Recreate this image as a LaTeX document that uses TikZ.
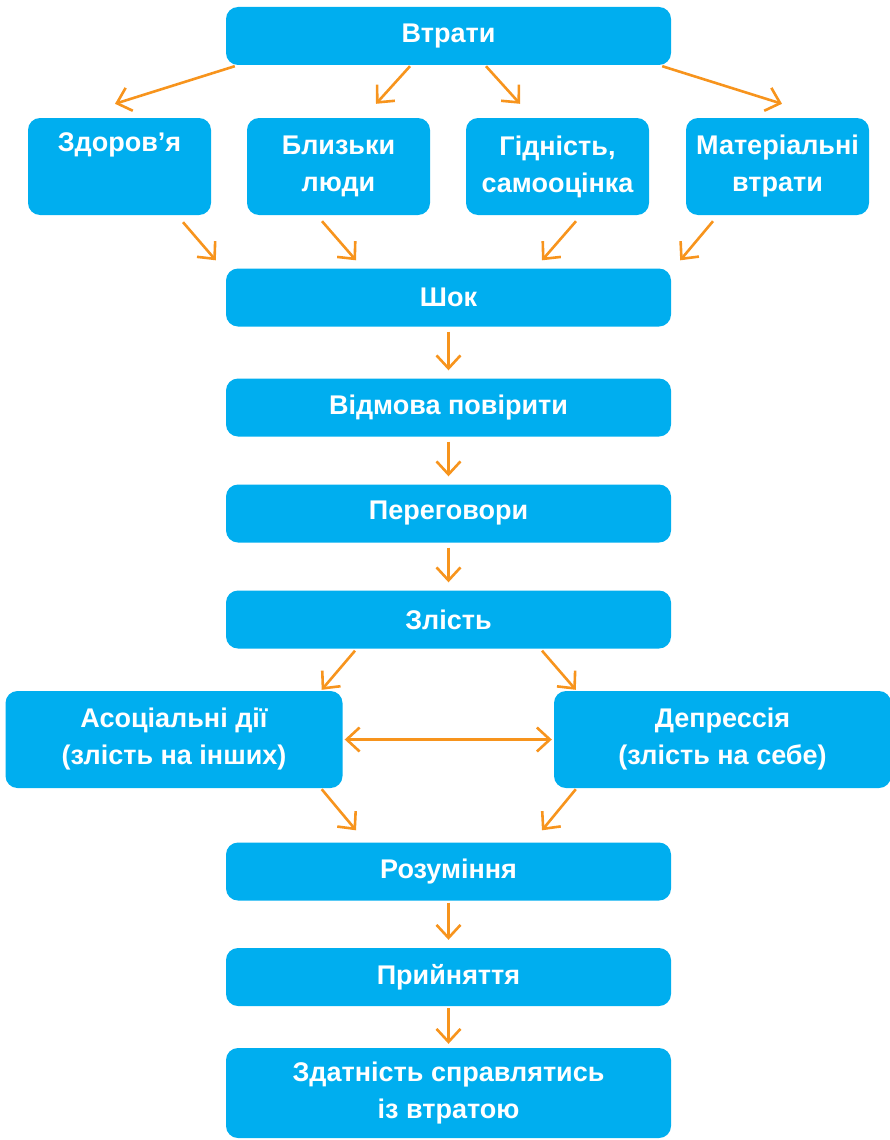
\documentclass[tikz,border=0pt]{standalone}
\usepackage{fontspec}
\setmainfont{Liberation Sans}
\usetikzlibrary{arrows.meta, calc}

\definecolor{boxblue}{HTML}{00AEEF}
\definecolor{arrorange}{HTML}{F7941D}

\tikzset{
	stagebox/.style={fill=boxblue, rounded corners=12pt, inner sep=0pt, text=white,
		font=\fontsize{27}{37}\selectfont\bfseries, align=center,
		minimum width=445pt, minimum height=58pt},
	lossbox/.style={stagebox, minimum width=183pt, minimum height=97pt},
	sidebox/.style={stagebox, minimum width=337pt, minimum height=97pt},
	barb/.tip={Straight Barb[length=13pt,width=24pt]},
	arr/.style={draw=arrorange, line width=2.6pt, -barb},
}

\begin{document}
\begin{tikzpicture}[x=1pt, y=-1pt]
		\useasboundingbox (0,0) rectangle (890,1140);
		
		\node[stagebox] (loss) at (448.5,36) {Втрати};
		
		\node[lossbox] (health) at (119.5,166.5) {Здоров’я\\\strut};
		\node[lossbox] (close) at (338.5,166.5) {Близьки\\люди};
		\node[lossbox] (dignity) at (557.5,166.5) {Гідність,\\самооцінка};
		\node[lossbox] (goods) at (777.5,166.5) {Матеріальні\\втрати};
		
		\node[stagebox] (shock) at (448.5,297.5) {Шок};
		\node[stagebox] (denial) at (448.5,407.5) {Відмова повірити};
		\node[stagebox] (bargain) at (448.5,513.5) {Переговори};
		\node[stagebox] (anger) at (448.5,619.5) {Злість};
		
		\node[sidebox] (asocial) at (174,739.5) {Асоціальні дії\\(злість на інших)};
		\node[sidebox] (depress) at (722.5,739.5) {Депрессія\\(злість на себе)};
		
		\node[stagebox] (understand) at (448.5,871.5) {Розуміння};
		\node[stagebox] (accept) at (448.5,977) {Прийняття};
		\node[stagebox, minimum height=90pt] (cope) at (448.5,1093) {Здатність справлятись\\із втратою};
		
		% losses
		\draw[arr] ($(loss.south west)+(9,1)$) -- ($(health.north)+(-4.5,-14)$);
		\draw[arr] ($(loss.south)+(-38.5,1)$) -- ($(close.north)+(37.5,-14)$);
		\draw[arr] ($(loss.south)+(37.5,1)$) -- ($(dignity.north)+(-37.5,-14)$);
		\draw[arr] ($(loss.south east)+(-9,1)$) -- ($(goods.north)+(4.5,-14)$);
		
		\draw[arr] ($(health.south)+(63.5,7)$) -- ($(shock.north west)+(-10,-8)$);
		\draw[arr] ($(close.south)+(-16.5,6)$) -- ($(shock.north)+(-92.5,-8)$);
		\draw[arr] ($(dignity.south)+(18.5,6)$) -- ($(shock.north)+(93.5,-8)$);
		\draw[arr] ($(goods.south)+(-64.5,6)$) -- ($(shock.north east)+(9,-8)$);
		
		% stages
		\draw[arr, shorten <=5pt, shorten >=8pt] (shock) -- (denial);
		\draw[arr, shorten <=5pt, shorten >=8pt] (denial) -- (bargain);
		\draw[arr, shorten <=5pt, shorten >=8pt] (bargain) -- (anger);
		
		\draw[arr] ($(anger.south)+(-93.5,2)$) -- ($(asocial.north east)+(-21,-1)$);
		\draw[arr] ($(anger.south)+(93.5,2)$) -- ($(depress.north west)+(22,-1)$);
		\draw[arr, barb-barb, shorten <=2pt, shorten >=2pt] (asocial) -- (depress);
		\draw[arr] ($(asocial.south east)+(-21,1)$) -- ($(understand.north)+(-92.5,-12)$);
		\draw[arr] ($(depress.south west)+(22,1)$) -- ($(understand.north)+(93.5,-12)$);
		
		\draw[arr, shorten <=2pt, shorten >=8pt] (understand) -- (accept);
		\draw[arr, shorten <=2pt, shorten >=4pt] (accept) -- (cope);
		
\end{tikzpicture}
\end{document}
